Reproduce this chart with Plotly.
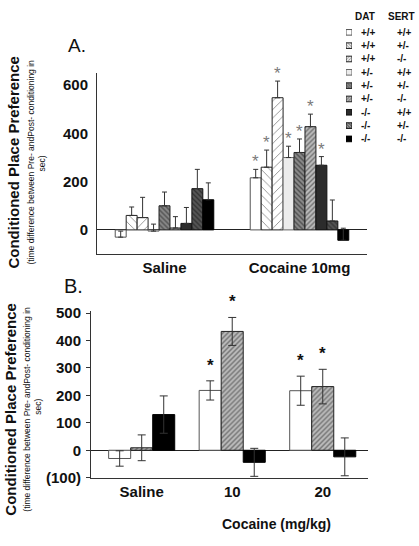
import plotly.graph_objects as go

W, H = 419, 546

# ---------------- data ----------------
groups_A = ["Saline", "Cocaine 10mg"]
dat = ["+/+", "+/+", "+/+", "+/-", "+/-", "+/-", "-/-", "-/-", "-/-"]
sert = ["+/+", "+/-", "-/-", "+/+", "+/-", "-/-", "+/+", "+/-", "-/-"]
saline_A = [-30, 60, 51, -5, 100, 8, 27, 171, 125]
saline_A_err = [25, 35, 84, 29, 57, 47, 66, 80, 70]
cocaine_A = [216, 260, 548, 300, 321, 428, 268, 37, -43]
cocaine_A_err = [35, 71, 69, 47, 56, 52, 36, 87, 50]
cocaine_A_sig = [1, 1, 1, 1, 1, 1, 1, 0, 0]
ticks_A = [0, 200, 400, 600]

groups_B = ["Saline", "10", "20"]
genotype_B = [0, 5, 8]          # index into dat/sert
vals_B = [[-30, 218, 217], [9, 433, 232], [130, -44, -24]]
err_B = [[28, 35, 53], [47, 51, 63], [68, 51, 69]]
sig_B = [[0, 1, 1], [0, 1, 1], [0, 0, 0]]
ticks_B = [-100, 0, 100, 200, 300, 400, 500]
ticktext_B = ["(100)", "0", "100", "200", "300", "400", "500"]

# ---------------- styles ----------------
bg = ["#ffffff", "#ffffff", "#ffffff", "#ececec", "#8a8a8a", "#bdbdbd", "#2c2c2c", "#555555", "#000000"]
shape = ["", "\\", "/", "", "\\", "/", "", "\\", ""]
fg = ["#000", "#222", "#222", "#000", "#111", "#222", "#000", "#111", "#000"]
psize = [6, 6, 6, 6, 3.5, 3.5, 6, 3.5, 6]
psol = [0.2, 0.15, 0.15, 0.2, 0.4, 0.4, 0.2, 0.4, 0.2]
outline = ["#555", "#222", "#222", "#666", "#222", "#222", "#111", "#111", "#000"]

FONT = "Liberation Sans, Arial, sans-serif"
BARGAP = 0.27


def px(x):
    return x / W


def py(y):
    return 1 - y / H


def marker(i):
    return dict(color=bg[i], line=dict(color=outline[i], width=1),
                pattern=dict(shape=shape[i], fgcolor=fg[i], bgcolor=bg[i],
                             size=psize[i], solidity=psol[i], fillmode="overlay"))


def label(xp, yp, text, size, angle=0, xanchor="center", yref="paper", y=None):
    return dict(x=px(xp), y=py(yp) if y is None else y, xref="paper", yref=yref,
                text=text, showarrow=False, textangle=angle,
                xanchor=xanchor, yanchor="middle",
                font=dict(family=FONT, size=size, color="#111"))


fig = go.Figure()

# ---------------- panel A ----------------
for i in range(9):
    fig.add_trace(go.Bar(
        x=groups_A, y=[saline_A[i], cocaine_A[i]],
        error_y=dict(type="data", symmetric=False,
                     array=[saline_A_err[i], cocaine_A_err[i]], arrayminus=[0, 0],
                     color="#333", thickness=1, width=2.5),
        marker=marker(i), xaxis="x", yaxis="y", showlegend=False,
        name=f"DAT {dat[i]} SERT {sert[i]}"))

# ---------------- panel B ----------------
for k, g in enumerate(genotype_B):
    fig.add_trace(go.Bar(
        x=groups_B, y=vals_B[k],
        error_y=dict(type="data", array=err_B[k], color="#333", thickness=1, width=4),
        marker=marker(g), xaxis="x2", yaxis="y2", showlegend=False,
        name=f"DAT {dat[g]} SERT {sert[g]}"))

# ---------------- legend swatches (small subplot) ----------------
fig.add_trace(go.Bar(
    y=list(range(9)), x=[1] * 9, orientation="h", width=0.42,
    marker=dict(color=bg, line=dict(color=outline, width=1),
                pattern=dict(shape=shape, fgcolor=fg, bgcolor=bg,
                             size=[2.2 if s else 6 for s in shape], solidity=0.45,
                             fillmode="overlay")),
    xaxis="x3", yaxis="y3", showlegend=False, hoverinfo="skip"))

ann = []
# stars, panel A
n = 9
gw = 1 - BARGAP
bw = gw / n
for i in range(n):
    if cocaine_A_sig[i]:
        ann.append(dict(x=1 - gw / 2 + (i + 0.5) * bw, y=cocaine_A[i] + cocaine_A_err[i],
                        xref="x", yref="y", text="*", showarrow=False,
                        xanchor="center", yanchor="bottom",
                        yshift=-4, font=dict(family=FONT, size=17, color="#7a7a7a")))
# stars, panel B
bwB = gw / 3
for k in range(3):
    for j in range(3):
        if sig_B[k][j]:
            ann.append(dict(x=j - gw / 2 + (k + 0.5) * bwB, y=vals_B[k][j] + err_B[k][j],
                            xref="x2", yref="y2", text="<b>*</b>", showarrow=False,
                            xanchor="center", yanchor="bottom", yshift=4,
                            font=dict(family=FONT, size=17, color="#111")))

# legend texts
ann.append(label(365, 10, "<b>DAT</b>", 10))
ann.append(label(401, 10, "<b>SERT</b>", 10))
for i in range(9):
    ann.append(label(359, 0, f"<b>{dat[i]}</b>", 10, xanchor="left", yref="y3", y=i))
    ann.append(label(395, 0, f"<b>{sert[i]}</b>", 10, xanchor="left", yref="y3", y=i))

# panel labels
ann.append(label(77, 40, "A.", 19))
ann.append(label(73, 287, "B.", 20))

# y titles
for (xm, xs, xsec, yc, ysec) in [(14, 31, 42, 160, 161), (11, 27, 38, 414, 411)]:
    ann.append(label(xm, yc, "<b>Conditioned Place Preference</b>", 15, angle=-90))
    ann.append(label(xs, yc, "(time difference between Pre- andPost- conditioning in", 8.5, angle=-90))
    ann.append(label(xsec, ysec, "sec)", 8.5, angle=-90))

ann.append(label(276, 532, "<b>Cocaine (mg/kg)</b>", 14))

axis_common = dict(showline=True, linecolor="#333", linewidth=1, showgrid=False,
                   tickfont=dict(family=FONT, size=15, color="#111", weight="bold"))

fig.update_layout(
    width=W, height=H, margin=dict(l=0, r=0, t=0, b=0),
    paper_bgcolor="white", plot_bgcolor="white",
    barmode="group", bargap=BARGAP, bargroupgap=0,
    xaxis=dict(domain=[px(97), px(367)], anchor="y", type="category", ticks="",
               categoryarray=groups_A, range=[-0.5, 1.5], **axis_common),
    yaxis=dict(domain=[py(254), py(68)], anchor="x", range=[-100, 650], tickvals=ticks_A,
               ticks="", zeroline=True, zerolinecolor="#222", zerolinewidth=1,
               ticklabelstandoff=5, **axis_common),
    xaxis2=dict(domain=[px(91), px(368)], anchor="y2", type="category", ticks="",
                categoryarray=groups_B, range=[-0.56, 2.5], **axis_common),
    yaxis2=dict(domain=[py(484), py(313)], anchor="x2", range=[-100, 506], tickvals=ticks_B,
                ticktext=ticktext_B, ticks="outside", ticklen=4, tickcolor="#333",
                zeroline=True, zerolinecolor="#222", zerolinewidth=1,
                ticklabelstandoff=2, **axis_common),
    xaxis3=dict(domain=[px(346), px(352)], anchor="y3", range=[0, 1], visible=False),
    yaxis3=dict(domain=[py(142.5), py(19.2)], anchor="x3", range=[8.5, -0.5], visible=False),
    annotations=ann,
    font=dict(family=FONT, color="#111"),
)

fig.write_html("out.html", config={"displayModeBar": False},
               post_script="document.body.style.margin='0px';")
